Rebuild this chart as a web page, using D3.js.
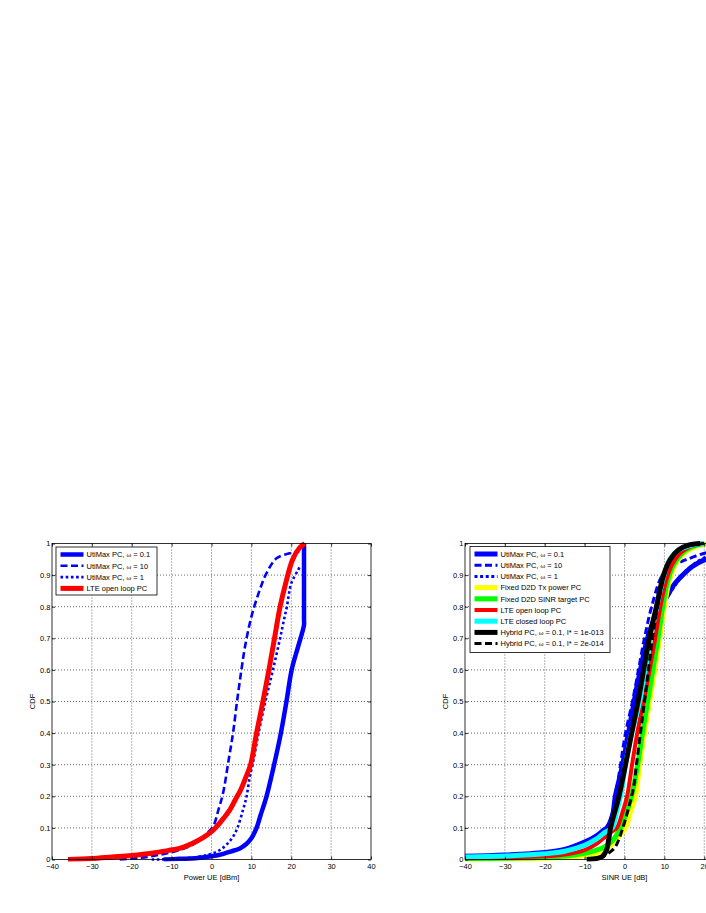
<!DOCTYPE html>
<html><head><meta charset="utf-8">
<script src="https://cdn.jsdelivr.net/npm/d3@7"></script>
<style>body{margin:0;background:#fff;} svg{display:block;} text{font-family:"Liberation Sans",Arial,Helvetica,sans-serif;}</style>
</head><body>
<svg id="chart" width="706" height="913"></svg>
<script>
// ---------- DATA ----------
const xTicks = [-40,-30,-20,-10,0,10,20,30,40];
const yTicks = [0,0.1,0.2,0.3,0.4,0.5,0.6,0.7,0.8,0.9,1];
const yTickLabels = ["0","0.1","0.2","0.3","0.4","0.5","0.6","0.7","0.8","0.9","1"];

// Left panel: Power UE [dBm]
const leftUtiMax01 = [[-12,0],[-8,0.002],[-4,0.004],[0,0.01],[3,0.018],[5,0.026],[7.1,0.035],[8.8,0.05],[10,0.067],[11.3,0.1],[12.3,0.14],[13.8,0.2],[15.7,0.3],[17.4,0.4],[18.8,0.5],[20.1,0.6],[21.7,0.673],[23.2,0.742],[23.2,0.76],[23.2,1.0]];
const leftUtiMax10 = [[-23,0],[-18,0.005],[-13,0.015],[-8,0.03],[-5,0.045],[-2.9,0.062],[-1,0.085],[0.4,0.104],[1.8,0.16],[2.9,0.21],[4.3,0.315],[5.4,0.4],[6.4,0.5],[7.5,0.6],[8.4,0.673],[10,0.768],[12.1,0.853],[13.8,0.906],[16.3,0.953],[19.6,0.969],[21.3,0.974],[22,0.975]];
const leftUtiMax1 = [[-15,0],[-8,0.002],[-3,0.009],[0,0.018],[2.1,0.03],[4,0.05],[5.4,0.072],[6.5,0.1],[7.9,0.157],[8.8,0.2],[9.6,0.262],[10.3,0.3],[11.8,0.4],[13.5,0.5],[15.4,0.6],[17.2,0.7],[18.2,0.76],[18.9,0.8],[20,0.874],[21.7,0.916],[22.3,0.93]];
const leftLTEopen = [[-36,0],[-30,0.003],[-25,0.008],[-20,0.013],[-15,0.02],[-11,0.028],[-8,0.035],[-5,0.05],[-2,0.07],[0,0.088],[1,0.1],[3,0.13],[4.6,0.157],[6,0.19],[7.3,0.22],[8.6,0.26],[9.8,0.3],[11.3,0.4],[12.9,0.5],[14.4,0.6],[15.8,0.7],[17.2,0.8],[18.6,0.874],[20.3,0.948],[22,0.985],[23.4,1.0]];

// Right panel: SINR UE [dB]
const rightUtiMax01 = [[-40,0.01],[-30,0.014],[-20,0.022],[-15,0.032],[-10,0.055],[-7,0.075],[-5,0.095],[-4.4,0.1],[-3,0.14],[-2.3,0.2],[-1,0.27],[0,0.33],[1,0.4],[2,0.47],[3,0.54],[4,0.6],[5,0.66],[6,0.71],[7.5,0.76],[9.3,0.8],[11,0.84],[12.7,0.874],[15,0.905],[17,0.927],[20,0.948],[25,0.965],[30,0.975],[35,0.985],[40,0.99]];
const rightUtiMax10 = [[-40,0.009],[-30,0.012],[-20,0.02],[-15,0.03],[-10,0.05],[-7,0.07],[-5,0.09],[-4,0.11],[-3,0.15],[-2,0.22],[-1,0.3],[0.25,0.4],[2,0.5],[3.5,0.6],[5,0.7],[6.8,0.8],[9.5,0.9],[12,0.93],[15.3,0.948],[20.3,0.97],[25,0.978],[30,0.983],[40,0.99]];
const rightUtiMax1 = [[-40,0.009],[-30,0.012],[-20,0.02],[-15,0.029],[-10,0.05],[-7,0.07],[-5,0.09],[-4,0.105],[-3,0.14],[-2,0.2],[-1,0.26],[0,0.32],[1.2,0.4],[2.8,0.5],[4.4,0.6],[6,0.7],[8,0.78],[10,0.82],[11.9,0.853],[14.5,0.9],[17,0.93],[19.9,0.954],[25,0.97],[30,0.98],[40,0.99]];
const rightFixedTx = [[-40,0.001],[-30,0.002],[-20,0.004],[-15,0.007],[-10,0.012],[-7,0.02],[-5,0.03],[-3,0.05],[-1,0.08],[0.25,0.1],[1.5,0.15],[2.75,0.2],[3.8,0.3],[5,0.4],[6.3,0.5],[7.6,0.6],[8.8,0.7],[10,0.8],[11.2,0.88],[12.6,0.93],[15,0.97],[18,0.99],[21,1]];
const rightFixedSINR = [[-40,0.002],[-30,0.004],[-20,0.007],[-15,0.011],[-10,0.02],[-7,0.03],[-5,0.04],[-3,0.06],[-1,0.1],[0.5,0.15],[1.75,0.2],[3.3,0.3],[4.5,0.4],[5.8,0.5],[7.1,0.6],[8.4,0.7],[9.6,0.8],[10.8,0.88],[12.2,0.93],[14.5,0.97],[17,0.99],[20,1]];
const rightLTEopen = [[-40,0.004],[-30,0.006],[-20,0.01],[-15,0.016],[-10,0.03],[-7,0.05],[-5,0.07],[-3,0.09],[-1.9,0.1],[-0.5,0.15],[0.65,0.2],[1.9,0.3],[3.2,0.4],[4.8,0.5],[6.3,0.6],[7.7,0.7],[9,0.8],[10.4,0.88],[11.8,0.93],[14,0.97],[16.5,0.99],[20,1]];
const rightLTEclosed = [[-40,0.008],[-30,0.011],[-20,0.018],[-15,0.026],[-10,0.045],[-7,0.065],[-5,0.085],[-3.1,0.1],[-2,0.15],[-1,0.2],[0.25,0.3],[1.8,0.4],[3.8,0.5],[5.2,0.6],[6.5,0.7],[8.1,0.8],[9.9,0.9],[11.4,0.95],[13.6,0.98],[17,0.995],[20,1]];
const rightHybrid13 = [[-9.5,0],[-7,0.003],[-5.5,0.01],[-4.5,0.03],[-4,0.06],[-3.5,0.1],[-1.4,0.2],[0.25,0.3],[1.8,0.4],[3.4,0.5],[4.8,0.6],[6.2,0.7],[8,0.8],[9.8,0.9],[11.5,0.95],[13.6,0.98],[16,0.995],[19,1]];
const rightHybrid14 = [[-9,0],[-7,0.004],[-5.2,0.01],[-3.5,0.025],[-2.3,0.04],[-0.6,0.093],[1.1,0.167],[2.3,0.23],[3,0.3],[4,0.4],[5,0.5],[6,0.6],[7,0.7],[8.3,0.8],[10,0.9],[11.5,0.95],[13.6,0.98],[17,0.995],[20,1]];

const leftNames = ["UtiMax PC, |ω| = 0.1","UtiMax PC, |ω| = 10","UtiMax PC, |ω| = 1","LTE open loop PC"];
const rightNames = ["UtiMax PC, |ω| = 0.1","UtiMax PC, |ω| = 10","UtiMax PC, |ω| = 1","Fixed D2D Tx power PC","Fixed D2D SINR target PC","LTE open loop PC","LTE closed loop PC","Hybrid PC, |ω| = 0.1, I* = 1e-013","Hybrid PC, |ω| = 0.1, I* = 2e-014"];

// ---------- STYLES ----------
const leftSeries = [
  {data:leftUtiMax01, color:"#0000ff", width:4.5, dash:null},
  {data:leftUtiMax10, color:"#0000ff", width:2.6, dash:"7,3.5"},
  {data:leftUtiMax1, color:"#0000ff", width:2.6, dash:"2.6,2.6"},
  {data:leftLTEopen, color:"#ff0000", width:5, dash:null}
];
const rightSeries = [
  {data:rightUtiMax01, color:"#0000ff", width:5, dash:null},
  {data:rightUtiMax10, color:"#0000ff", width:3, dash:"7,3.5"},
  {data:rightUtiMax1, color:"#0000ff", width:3, dash:"3,2.6"},
  {data:rightFixedTx, color:"#ffff00", width:5, dash:null},
  {data:rightFixedSINR, color:"#00ff00", width:5, dash:null},
  {data:rightLTEopen, color:"#ff0000", width:4, dash:null},
  {data:rightLTEclosed, color:"#00ffff", width:5, dash:null},
  {data:rightHybrid13, color:"#000000", width:5, dash:null},
  {data:rightHybrid14, color:"#000000", width:3, dash:"7,3.5"}
];

const svg = d3.select("#chart");
const plotTop = 543.5, plotBottom = 859.5;
const FS = 7.5;

function panel(id, x0, x1, series, names, xlabel, legendBox) {
  const g = svg.append("g");
  const x = d3.scaleLinear().domain([-40,40]).range([x0,x1]);
  const y = d3.scaleLinear().domain([0,1]).range([plotBottom,plotTop]);

  // grid
  g.append("g").selectAll("line").data(xTicks.slice(1,-1)).join("line")
    .attr("x1",d=>x(d)).attr("x2",d=>x(d)).attr("y1",plotTop).attr("y2",plotBottom)
    .attr("stroke","#000").attr("stroke-width",0.6).attr("stroke-dasharray","1,2");
  g.append("g").selectAll("line").data(yTicks.slice(1,-1)).join("line")
    .attr("y1",d=>y(d)).attr("y2",d=>y(d)).attr("x1",x0).attr("x2",x1)
    .attr("stroke","#000").attr("stroke-width",0.6).attr("stroke-dasharray","1,2");

  // clip
  svg.append("clipPath").attr("id","clip"+id).append("rect")
    .attr("x",x0).attr("y",plotTop-4).attr("width",x1-x0+4).attr("height",plotBottom-plotTop+6);

  const line = d3.line().x(d=>x(d[0])).y(d=>y(d[1])).curve(d3.curveCatmullRom.alpha(0.5));
  const lines = g.append("g").attr("clip-path","url(#clip"+id+")");
  series.forEach(s=>{
    lines.append("path").attr("d",line(s.data)).attr("fill","none")
      .attr("stroke",s.color).attr("stroke-width",s.width)
      .attr("stroke-dasharray",s.dash).attr("stroke-linejoin","round");
  });

  // frame
  g.append("rect").attr("x",x0).attr("y",plotTop).attr("width",x1-x0).attr("height",plotBottom-plotTop)
    .attr("fill","none").attr("stroke","#000").attr("stroke-width",0.8);

  // axes (ticks inward)
  g.append("g").attr("transform",`translate(0,${plotBottom})`)
    .call(d3.axisBottom(x).tickValues(xTicks).tickSize(-3).tickPadding(4).tickFormat(d3.format("d")));
  g.append("g").attr("transform",`translate(${x0},0)`)
    .call(d3.axisLeft(y).tickValues(yTicks).tickSize(-3).tickPadding(1.5).tickFormat((d,i)=>yTickLabels[i]));
  g.append("g").attr("transform",`translate(0,${plotTop})`)
    .call(d3.axisTop(x).tickValues(xTicks).tickSize(-3).tickFormat(""));
  g.append("g").attr("transform",`translate(${x1},0)`)
    .call(d3.axisRight(y).tickValues(yTicks).tickSize(-3).tickFormat(""));
  g.selectAll(".domain").remove();
  g.selectAll(".tick line").attr("stroke","#000").attr("stroke-width",0.8);
  g.selectAll(".tick text").attr("font-size",FS).attr("fill","#000")
    .attr("font-family","'Liberation Sans',Arial,sans-serif");

  // labels
  g.append("text").attr("x",x(0)).attr("y",880)
    .attr("text-anchor","middle").attr("font-size",FS).text(xlabel);
  g.append("text").attr("transform",`translate(${x0-17},${(plotTop+plotBottom)/2}) rotate(-90)`)
    .attr("text-anchor","middle").attr("font-size",FS).text("CDF");

  // legend
  const lg = g.append("g");
  lg.append("rect").attr("x",legendBox.x).attr("y",legendBox.y).attr("width",legendBox.w).attr("height",legendBox.h)
    .attr("fill","#fff").attr("stroke","#000").attr("stroke-width",0.8);
  names.forEach((n,i)=>{
    const yy = legendBox.y + 7.5 + i*legendBox.step;
    const s = series[i];
    lg.append("line").attr("x1",legendBox.x+4.5).attr("x2",legendBox.x+27.5).attr("y1",yy).attr("y2",yy)
      .attr("stroke",s.color).attr("stroke-width",s.width).attr("stroke-dasharray",s.dash);
    const t = lg.append("text").attr("x",legendBox.x+30.5).attr("y",yy+2.7).attr("font-size",FS);
    n.split("|").forEach((part,k)=>{
      t.append("tspan").attr("font-size", k===1 ? 6 : FS).text(part);
    });
  });
}

panel("L", 52, 371, leftSeries, leftNames, "Power UE [dBm]", {x:56, y:547, w:101, h:48, step:11.3});
panel("R", 465, 784, rightSeries, rightNames, "SINR UE [dB]", {x:470, y:546.5, w:140, h:106, step:11.2});
</script>
</body></html>
